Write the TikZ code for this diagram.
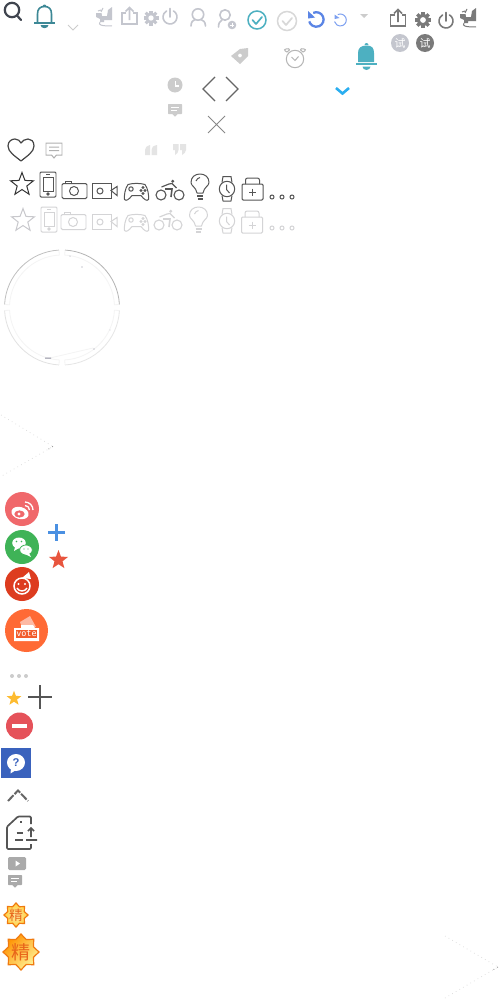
\documentclass[tikz,border=0pt]{standalone}
\usepackage{fontspec}
\newfontfamily\cjkf{Noto Sans CJK SC}
\setmainfont{Liberation Sans}
\newfontfamily\monof{DejaVu Sans Mono}
\usetikzlibrary{calc}
\newcommand\dc[1]{\definecolor{HTML#1}{HTML}{#1}}
\dc{40454F}\dc{D8D8D8}\dc{5B85E5}\dc{7DA0F0}\dc{B5B5B5}\dc{2AAEF0}\dc{666666}\dc{888888}\dc{444444}\dc{B0B0B0}\dc{E4E4E4}\dc{333333}\dc{C8C8CC}\dc{C0C0C0}\dc{B4B4B4}\dc{E2E2E2}\dc{E6E6E6}\dc{F4F4F4}\dc{9090A0}\dc{DADADA}\dc{F0686B}\dc{3FB357}\dc{DD3C1F}\dc{4A90E2}\dc{E8553E}\dc{FF6A35}\dc{FDB9A4}\dc{F25C2C}\dc{FDBB30}\dc{555555}\dc{E5525A}\dc{3A62BD}\dc{FF9200}\dc{FFF59A}\dc{FFE9A8}\dc{E8641A}\dc{FFD040}
\definecolor{lg}{HTML}{C4C6CE}
\definecolor{dg}{HTML}{7A7A7A}
\definecolor{tealb}{HTML}{3D8896}
\definecolor{teal2}{HTML}{4DB0C1}
\definecolor{ic}{HTML}{555555}
\definecolor{il}{HTML}{D4D4D6}
\definecolor{gc}{HTML}{CCCCCC}
\definecolor{bx}{HTML}{AAAAAA}
\definecolor{orgb}{HTML}{F07A10}
\tikzset{
  px/.style={line width=#1*0.2835pt},
}
\newcommand\starico[5]{\path[#5] plot[samples at={0,...,9},variable=\k] ({#1+ifthenelse(mod(\k,2)==0,#3,#3*0.42)*cos(-90+36*\k)},{#2+ifthenelse(mod(\k,2)==0,#3,#3*0.42)*sin(-90+36*\k)}) -- cycle;}
\newcommand\badgepath[2]{plot[samples at={0,...,15},variable=\k] ({#1+ifthenelse(mod(\k,2)==0,1,0.75)*cos(22.5*\k)},{#2+ifthenelse(mod(\k,2)==0,1,0.75)*sin(22.5*\k)}) -- cycle}
\newcommand\badge[4]{\begin{scope}[shift={(#1,#2)},scale=#3]
 \shade[#4,draw=orgb,px=1.2,line join=miter] \badgepath{0}{0};
 \end{scope}}
\newcommand\gearico[4]{\foreach \a in {0,45,...,315}{\draw[#4,px=#3*0.42,line cap=butt] (#1,#2) -- ($(#1,#2)+(\a:#3)$);}
 \fill[#4] (#1,#2) circle[radius=#3*0.75]; \fill[white] (#1,#2) circle[radius=#3*0.36];}
\newcommand\powerico[4]{\draw[#4,px=1.6,line cap=round] ($(#1,#2)+(-60:#3)$) arc[start angle=-60,end angle=240,radius=#3]; \draw[#4,px=1.6,line cap=round] (#1,#2) -- ($(#1,#2)+(0,-#3-1.5)$);}
\newcommand\shareico[3]{\begin{scope}[shift={(#1,#2)}]
 \draw[#3,px=1.7,line join=miter] (4,6) -- (0,6) -- (0,17) -- (15,17) -- (15,6) -- (11,6);
 \draw[#3,px=1.7] (7.5,13) -- (7.5,1) (3.5,4.5) -- (7.5,0.5) -- (11.5,4.5);
 \end{scope}}
\newcommand\machine[3]{\begin{scope}[shift={(#1,#2)},scale=#3]
 \fill[mc] (0,6) -- (5.5,6) -- (6,9) -- (11,9) -- (12,3) -- (16,0) -- (16,13) -- (8,13) -- (8,15) -- (4,15) -- (4,12) -- (0,10) -- cycle;
 \draw[mc,px=1] (2,4) -- (5,3) (5,5) -- (7,1) (4,15) .. controls (2,18) and (5,19) .. (16,19);
 \end{scope}}
\newcommand\phoneico[3]{\begin{scope}[shift={(#1,#2)}]
 \draw[#3,px=1,rounded corners=0.3pt] (0,0) rectangle (16,25);
 \draw[#3,px=1] (3,5) rectangle (13,19) (6,2.5) -- (10,2.5); \draw[#3,px=1] (8,22) circle[radius=1.2];
 \end{scope}}
\newcommand\cameraico[3]{\begin{scope}[shift={(#1,#2)}]
 \draw[#3,px=1,rounded corners=0.4pt] (0,3) rectangle (25,18);
 \draw[#3,px=1] (3,3) -- (3,0.5) -- (9,0.5) -- (9,3); \draw[#3,px=1] (12,10.5) circle[radius=4.5];
 \end{scope}}
\newcommand\videoico[3]{\begin{scope}[shift={(#1,#2)}]
 \draw[#3,px=1] (0,0) rectangle (19,15); \draw[#3,px=1] (8,7.5) circle[radius=3];
 \draw[#3,px=1] (19,7) -- (25,3) -- (25,12) -- cycle;
 \end{scope}}
\newcommand\padico[3]{\begin{scope}[shift={(#1,#2)}]
 \draw[#3,px=1,line join=round] (4,1) .. controls (9,-0.5) and (16,-0.5) .. (21,1) .. controls (24,5) and (25,12) .. (24.5,16) .. controls (23,18) and (20,16) .. (17,12) -- (8,12) .. controls (5,16) and (2,18) .. (0.5,16) .. controls (0,12) and (1,5) .. (4,1) -- cycle;
 \draw[#3,px=1] (7,5.5) circle[radius=2.2] (17,7) circle[radius=1] (19,4) circle[radius=1] (21,7) circle[radius=1] (19,10) circle[radius=1];
 \end{scope}}
\newcommand\bikeico[3]{\begin{scope}[shift={(#1,#2)}]
 \draw[#3,px=1.1] (5,15) circle[radius=5] (23,15) circle[radius=5];
 \draw[#3,px=1.2,line join=round] (5.5,7) -- (13,4) -- (16,3.5) -- (20.5,8);
 \draw[#3,px=1.6] (9,9) -- (16,9) -- (15,17);
 \fill[#3] (16.7,1.2) circle[radius=1.6];
 \end{scope}}
\newcommand\bulbico[3]{\begin{scope}[shift={(#1,#2)}]
 \draw[#3,px=1,line join=round] (6,19) .. controls (5,13) and (0,12) .. (0,8.5) .. controls (0,3) and (4,0) .. (9,0) .. controls (14,0) and (18,3) .. (18,8.5) .. controls (18,12) and (13,13) .. (12,19) -- cycle;
 \draw[#3,px=1] (5,7) .. controls (6,5) and (7,4) .. (9,3.5);
 \draw[#3,px=1.2] (6,22) -- (12,22) (6.5,25) -- (11.5,25);
 \end{scope}}
\newcommand\watchico[3]{\begin{scope}[shift={(#1,#2)}]
 \draw[#3,px=1] (8,13) circle[radius=7.7];
 \draw[#3,px=1,line join=round] (3,6.5) -- (4,0.5) -- (12,0.5) -- (13,6.5) (3,19.5) -- (4,25) -- (12,25) -- (13,19.5);
 \draw[#3,px=1] (7.5,8.5) -- (7.5,13.5) -- (10.5,17);
 \end{scope}}
\newcommand\kitico[3]{\begin{scope}[shift={(#1,#2)}]
 \draw[#3,px=1,rounded corners=0.3pt] (0,6) rectangle (21,22);
 \draw[#3,px=1,rounded corners=0.6pt] (3.5,6) -- (3.5,0) -- (17.5,0) -- (17.5,6);
 \draw[#3,px=1] (7,14) -- (14,14) (10.5,10.5) -- (10.5,17.5);
 \end{scope}}
\newcommand\dotsico[3]{\foreach \d in {0,10,20}{\draw[#3,px=1] (#1+\d,#2) circle[radius=2];}}
\newcommand\cmtfill[3]{\begin{scope}[shift={(#1,#2)}]
 \fill[#3,rounded corners=0.2pt] (0,0) -- (14,0) -- (14,10) -- (9.5,10) -- (7,13) -- (4.5,10) -- (0,10) -- cycle;
 \draw[white,px=1.3] (3,3.5) -- (11,3.5) (3,6.7) -- (8.5,6.7);
 \end{scope}}
\begin{document}
\begin{tikzpicture}[x=0.01cm,y=-0.01cm]
\useasboundingbox (0,0) rectangle (500,1000);
\fill[white] (0,0) rectangle (500,1000);
% search
\draw[HTML40454F,px=2.2] (12,10) circle[radius=7.2];
\draw[HTML40454F,px=2.2,line cap=round] (17,15.5) -- (21,20);
% bell outline
\draw[tealb,px=1.6] (37.5,23) -- (37.5,14) .. controls (37.5,9) and (40,6.5) .. (44.5,6.5) .. controls (49,6.5) and (51.5,9) .. (51.5,14) -- (51.5,23);
\fill[tealb] (42.5,6.5) arc[start angle=180,end angle=360,radius=2];
\draw[tealb,px=1.6] (34,23) -- (55,23);
\fill[tealb] (40.5,25) -- (48.5,25) arc[start angle=0,end angle=180,x radius=4,y radius=3.2] -- cycle;
\draw[gc,px=0.9] (68,25) -- (73,30) -- (78,25);
% top grey icons
\colorlet{mc}{lg}
\machine{96}{7}{1}
\shareico{122}{7}{lg}
\gearico{151}{18}{7.5}{lg}
\powerico{170}{17}{7}{lg}
% users
\draw[lg,px=1.6] (198,14.5) circle[radius=5.7];
\draw[lg,px=1.6,line cap=round] (191,26) .. controls (191,22) and (193,20) .. (195,19.5) (205.5,26) .. controls (205.5,22) and (203,20) .. (201,19.5);
\draw[lg,px=1.6] (225,15) circle[radius=5.2];
\draw[lg,px=1.6,line cap=round] (218.5,27) .. controls (218.5,23) and (220,21) .. (222,20);
\fill[lg] (232,25) circle[radius=4.3];
\draw[white,px=1] (229.7,25) -- (234.3,25) (232,22.7) -- (232,27.3);
% checks
\draw[teal2,px=1.5] (257,20) circle[radius=9];
\draw[teal2,px=1.7,line cap=round,line join=round] (252.5,20) -- (256,24) -- (262,17);
\draw[HTMLD8D8D8,px=1.5] (287,21) circle[radius=9.5];
\draw[HTMLD8D8D8,px=1.7,line cap=round,line join=round] (282.5,21) -- (286,25) -- (292,18);
% undo
\draw[HTML5B85E5,px=2.3] ($(316.3,19.5)+(-115:7.3)$) arc[start angle=-115,end angle=165,radius=7.3];
\fill[HTML5B85E5] (308,11) -- (308,18.5) -- (315,17.5) -- cycle;
\draw[HTML7DA0F0,px=1] ($(340.3,20)+(-115:6)$) arc[start angle=-115,end angle=165,radius=6];
\fill[HTML7DA0F0] (334.5,14.5) -- (334.5,19) -- (339.5,18) -- cycle;
\fill[gc] (360,14) -- (368,14) -- (364,18) -- cycle;
% dark top
\shareico{390.5}{9}{dg}
\gearico{423}{20}{8}{dg}
\powerico{446}{21}{7}{dg}
\colorlet{mc}{dg}
\machine{460}{8}{1}
\fill[lg] (400,43) circle[radius=9];
\fill[dg] (425,43) circle[radius=9];
\node[text=white,font=\cjkf\fontsize{3.1pt}{3.6pt}\selectfont,inner sep=0pt] (tA) at (400,43) {试};
\node[text=white,font=\cjkf\fontsize{3.1pt}{3.6pt}\selectfont,inner sep=0pt] (tB) at (425,43) {试};
% row 2
\begin{scope}[even odd rule]
\fill[gc] (231,56) -- (240,49) -- (248,48) -- (248,56) -- (240,64) -- cycle (240,55.5) circle[radius=2];
\end{scope}
% alarm
\draw[HTMLB5B5B5,px=1] (295,59) circle[radius=8.7];
\draw[HTMLB5B5B5,px=1] (287,52) .. controls (284,51) and (284,48) .. (286,49) .. controls (288,48) and (290,49) .. (289.5,50) -- cycle;
\draw[HTMLB5B5B5,px=1] (303,52) .. controls (306,51) and (306,48) .. (304,49) .. controls (302,48) and (300,49) .. (300.5,50) -- cycle;
\draw[HTMLB5B5B5,px=1] (291.5,57) -- (295,60.5) -- (298.5,56.5);
% filled bell
\fill[teal2] (364.5,45) arc[start angle=180,end angle=360,radius=2] -- cycle;
\fill[teal2] (358,62) -- (358,53) .. controls (358,48) and (361,45.5) .. (366.5,45.5) .. controls (372,45.5) and (374,48) .. (374,53) -- (374,62) -- cycle;
\fill[teal2] (356,63) rectangle (377,65);
\fill[teal2] (362.5,66.5) -- (370.5,66.5) arc[start angle=0,end angle=180,x radius=4,y radius=3.5] -- cycle;
\draw[HTML2AAEF0,px=2.6,line join=miter] (336,88) -- (342.5,93.5) -- (349,88);
% clock + comment
\fill[gc] (175,85) circle[radius=7.5];
\draw[white,px=1.2] (175.5,81) -- (175.5,86) -- (179,86);
\cmtfill{168}{104}{gc}
\draw[HTML666666,px=1.1] (215,77) -- (203,89) -- (215,101);
\draw[HTML666666,px=1.1] (226,77) -- (238,89) -- (226,101);
\draw[HTML888888,px=1] (208,116) -- (225,133) (225,116) -- (208,133);
% heart
\draw[HTML444444,px=1.2,line join=round] (21,161) .. controls (15,156) and (8,152) .. (8,146) .. controls (8,141) and (12,139) .. (15,139) .. controls (18,139) and (20,141) .. (21,143) .. controls (22,141) and (25,139) .. (28,139) .. controls (31,139) and (34,141) .. (34,146) .. controls (34,152) and (27,156) .. (21,161) -- cycle;
\begin{scope}[shift={(46,143)}]
\draw[HTMLB0B0B0,px=1] (0,0) -- (16,0) -- (16,12) -- (10.5,12) -- (8,15) -- (5.5,12) -- (0,12) -- cycle (3,4) -- (13,4) (3,7.5) -- (13,7.5);
\end{scope}
% quotes
\fill[HTMLE4E4E4] (145,155) -- (145,150) .. controls (145,147) and (147,146) .. (150,145) -- (150,155) -- cycle (151.5,155) -- (151.5,150) .. controls (151.5,147) and (153,146) .. (157,145) -- (157,155) -- cycle;
\fill[HTMLE4E4E4] (173,144) -- (178.5,144) -- (178.5,150) .. controls (178.5,152) and (177,154) .. (175,155) -- (175,150) -- (173,150) -- cycle (180,144) -- (186,144) -- (186,150) .. controls (186,152) and (184,154) .. (182,155) -- (182,150) -- (180,150) -- cycle;
% dark row
\starico{22}{184.5}{12}{}{draw=HTML333333,px=1,line join=miter}
\phoneico{40}{172}{ic}
\cameraico{62}{180.5}{ic}
\videoico{92}{183.5}{ic}
\padico{124}{183.5}{ic}
\bikeico{156}{180}{ic}
\bulbico{191}{174}{ic}
\watchico{219}{176}{ic}
\kitico{242}{178}{ic}
\dotsico{272}{197}{ic}
% light row
\starico{23}{220.5}{12}{}{draw=HTMLC8C8CC,px=1,line join=miter}
\phoneico{41}{207}{il}
\cameraico{61}{211.5}{il}
\videoico{92}{214.5}{il}
\padico{124}{214.5}{il}
\bikeico{154}{210}{il}
\bulbico{189.5}{207}{il}
\watchico{219}{208}{il}
\kitico{241.5}{211}{il}
\dotsico{272}{228}{il}
% ring
\foreach \s/\e/\co in {93/177/C0C0C0,3/87/B4B4B4,183/267/E2E2E2,273/357/E6E6E6}{
 \draw[HTML\co,px=0.8] ($(62,307.5)+(-\s:57.5)$) arc[start angle=-\s,end angle=-\e,radius=57.5];
 \draw[HTMLF4F4F4,px=0.8] ($(62,307.5)+(-\s:57.5)$) -- ($(62,307.5)+(-\s:52.5)$) arc[start angle=-\s,end angle=-\e,radius=52.5] -- ($(62,307.5)+(-\e:57.5)$);
}
\draw[HTMLF4F4F4,px=0.8] (50,358) -- (93,348);
\fill[HTML9090A0] (82,267) circle[radius=0.6] (70,256) circle[radius=0.5] (45,357.5) rectangle (51,358.5) (94,349) circle[radius=0.7] (110,330) circle[radius=0.4];
% faint chevrons
\draw[HTMLDADADA,px=0.7,densely dotted] (1,415) -- (53,446.5) -- (0,477);
\draw[HTML888888,px=0.8,densely dotted] (53,446.5) -- (46,450.5);
\draw[HTMLDADADA,px=0.7,densely dotted] (445,936) -- (498,967) -- (445,998);
\draw[HTML888888,px=0.8,densely dotted] (498,967) -- (491,971);
% weibo
\fill[HTMLF0686B] (22,509) circle[radius=17];
\fill[white,rotate around={-15:(20,513)}] (20,513) ellipse[x radius=8.8,y radius=6];
\fill[HTMLF0686B] (19.5,514) ellipse[x radius=5.2,y radius=3.6];
\fill[white] (19,514) circle[radius=1.7];
\draw[white,px=1.3] (25,505.5) arc[start angle=-90,end angle=0,radius=4.5] (25,502) arc[start angle=-90,end angle=0,radius=8];
% wechat
\fill[HTML3FB357] (22,547) circle[radius=17];
\fill[white] (19,543) ellipse[x radius=6.8,y radius=5.5];
\fill[white] (15,547) -- (14,551) -- (19,548) -- cycle;
\draw[HTML3FB357,fill=white,px=0.8] (26,550) ellipse[x radius=6.3,y radius=5];
\fill[white] (29,553) -- (31,557) -- (25,554) -- cycle;
\fill[HTML3FB357] (16.5,541.5) circle[radius=0.9] (21.5,541.5) circle[radius=0.9] (24,549) circle[radius=0.7] (28,549) circle[radius=0.7];
% third
\fill[HTMLDD3C1F] (22,584) circle[radius=17];
\draw[white,px=1.5] (22,586) circle[radius=8];
\draw[white,px=1.4] (17,588) .. controls (19,592) and (25,592) .. (27,588);
\fill[white] (18.5,584) circle[radius=1.2] (25,584) circle[radius=1.2] (22,578) -- (29,572) -- (31,579) -- cycle;
\draw[HTML4A90E2,px=3] (48,532.5) -- (65,532.5) (56.5,524) -- (56.5,541);
\starico{58.5}{560}{10}{}{fill=HTMLE8553E}
% vote
\fill[HTMLFF6A35] (26.5,630.5) circle[radius=21.5];
\fill[HTMLFDB9A4] (20,622) -- (30,616) -- (36,627) -- (22,627) -- cycle;
\fill[white] (14,628) -- (21,628) -- (21,625) -- (33,625) -- (35,628) -- (39,628) -- (39,641) -- (14,641) -- cycle;
\fill[HTMLF25C2C] (16,629.5) rectangle (37,638);
\node[text=white,font=\monof\fontsize{2.4pt}{3pt}\selectfont,inner sep=0pt] (vt) at (26.5,633.5) {vote};
% misc
\foreach \d in {12,19,26}{\fill[gc] (\d,676) circle[radius=2];}
\starico{14}{698.5}{7.7}{}{fill=HTMLFDBB30}
\draw[HTML555555,px=1.5] (28,697) -- (52,697) (40,685) -- (40,709);
\fill[HTMLE5525A] (19.5,726) circle[radius=13.5];
\fill[white] (12,724) rectangle (27,727.5);
\fill[HTML3A62BD] (1,748) rectangle (31,778);
\fill[white] (16,762.5) ellipse[x radius=9,y radius=8.5];
\fill[white] (11,768) -- (10.5,773.5) -- (16,770) -- cycle;
\node[text=HTML3A62BD,font=\bfseries\fontsize{3.2pt}{4pt}\selectfont,inner sep=0pt] (qm) at (16,762.5) {?};
\draw[HTML666666,px=2,dash pattern=on 0.08cm off 0.015cm] (8,801) -- (18,790.5) -- (28,801);
% doc
\begin{scope}[shift={(6,816)}]
\draw[HTML555555,px=1.7,line join=round,rounded corners=0.3pt] (25,28) -- (25,33) -- (1,33) -- (1,10.7) -- (12,0.5) -- (25,0.5) -- (25,8);
\draw[HTML555555,px=1.7] (9,24) -- (17,24) (10.5,17) -- (17,17) (14,6) -- (16,6);
\draw[HTML555555,px=1.7] (25,21) -- (25,12) (22,15) -- (25,12) -- (28,15) (20,24) -- (31,24);
\end{scope}
% play + comment
\fill[bx,rounded corners=0.4pt] (8,857) rectangle (26,870);
\fill[white] (15.5,860.5) -- (20,863.5) -- (15.5,866.5) -- cycle;
\cmtfill{8}{875}{bx}
% badges
\badge{16}{915}{12}{inner color=HTMLFFE9A8,outer color=HTMLFFD040}
\node[text=HTMLE8641A,font=\cjkf\fontsize{3.9pt}{5pt}\selectfont,inner sep=0pt] (jA) at (16,915) {精};
\badge{21}{952}{18}{left color=HTMLFF9200,middle color=HTMLFFD040,right color=HTMLFFF59A,shading angle=45}
\node[text=HTMLE8641A,font=\cjkf\fontsize{5.4pt}{6.5pt}\selectfont,inner sep=0pt] (jB) at (21,952) {精};
\end{tikzpicture}
\end{document}
